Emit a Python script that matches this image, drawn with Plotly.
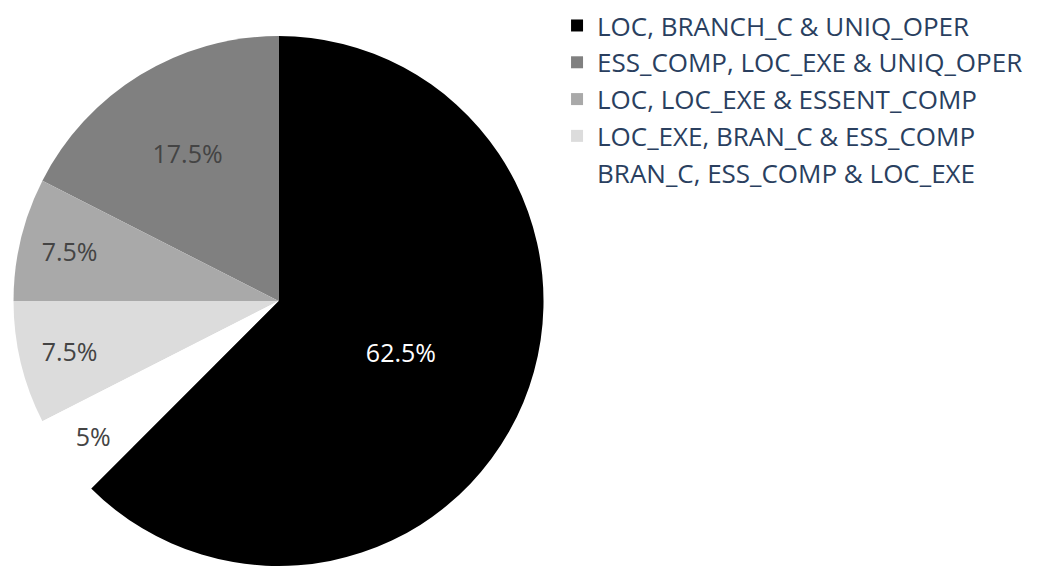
import plotly.graph_objects as go

labels = [
    "LOC, BRANCH_C & UNIQ_OPER",
    "ESS_COMP, LOC_EXE & UNIQ_OPER",
    "LOC, LOC_EXE & ESSENT_COMP",
    "LOC_EXE, BRAN_C & ESS_COMP",
    "BRAN_C, ESS_COMP & LOC_EXE",
]
values = [62.5, 17.5, 7.5, 7.5, 5]
colors = ["black", "gray", "darkgray", "gainsboro", "white"]

fig = go.Figure(
    go.Pie(
        labels=labels,
        values=values,
        marker=dict(colors=colors),
        textinfo="percent",
        textfont=dict(size=25),
        domain=dict(x=[0, 0.528], y=[0, 1]),
    )
)

fig.update_layout(
    width=1055,
    height=566,
    margin=dict(l=0, r=0, t=36, b=0),
    paper_bgcolor="white",
    legend=dict(x=0.528, y=1.064, xanchor="left", yanchor="top", font=dict(size=26)),
)

fig.write_html("out.html")
